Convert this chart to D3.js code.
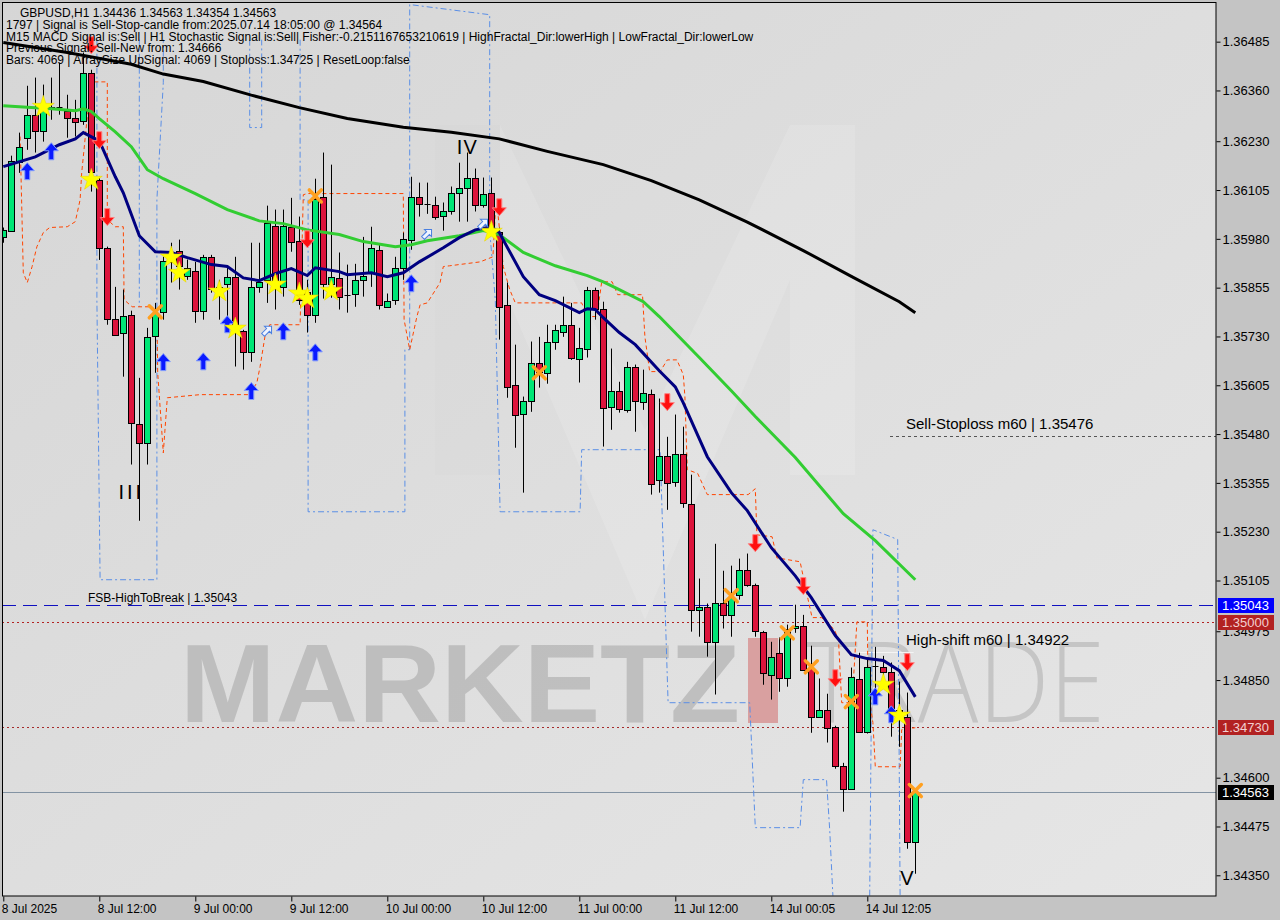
<!DOCTYPE html>
<html><head><meta charset="utf-8">
<script src="https://cdn.jsdelivr.net/npm/d3@7"></script>
<style>body{margin:0;background:#c4c4c4;} svg{display:block}</style>
</head><body><svg id="c" width="1280" height="920"></svg>
<script>
// ---------------- DATA ----------------
const open = [
1.35985,1.36001,1.36178,1.36239,1.36298,1.36257,1.36313,1.36317,1.36308,1.36290,
1.36283,1.36405,1.36131,1.35957,1.35775,1.35740,1.35786,1.35507,1.35458,1.35732,
1.35793,1.35921,1.35950,1.35886,1.35898,1.35796,1.35934,1.35857,1.35865,1.35883,
1.35745,1.35691,1.35857,1.35875,1.36014,1.35857,1.36011,1.35975,1.35845,1.35786,
1.36088,1.35865,1.35880,1.35837,1.35840,1.35875,1.35893,1.35952,1.35806,1.35824,
1.35906,1.35978,1.36088,1.36070,1.36067,1.36039,1.36052,1.36098,1.36111,1.36137,
1.36067,1.36098,1.35998,1.35811,1.35606,1.35532,1.35565,1.35663,1.35637,1.35717,
1.35742,1.35760,1.35673,1.35699,1.35850,1.35801,1.35550,1.35591,1.35542,1.35653,
1.35563,1.35583,1.35363,1.35425,1.35358,1.35430,1.35302,1.35030,1.35038,1.34948,
1.35048,1.35017,1.35069,1.35133,1.35094,1.34974,1.34864,1.34920,1.34856,1.34984,
1.34989,1.34882,1.34756,1.34774,1.34731,1.34631,1.34572,1.34853,1.34718,1.34887,
1.34884,1.34871,1.34774,1.34756,1.34436];
const high = [
1.36009,1.36193,1.36252,1.36372,1.36393,1.36375,1.36393,1.36431,1.36349,1.36336,
1.36457,1.36413,1.36139,1.35960,1.35857,1.35850,1.35796,1.35624,1.35752,1.35816,
1.35934,1.35970,1.35978,1.35927,1.35921,1.35939,1.35939,1.35875,1.35906,1.35934,
1.35747,1.35970,1.35970,1.36065,1.36055,1.36055,1.36085,1.36037,1.35875,1.36134,
1.36201,1.36170,1.35945,1.35914,1.35916,1.35985,1.36011,1.35965,1.35840,1.35934,
1.35996,1.36139,1.36124,1.36124,1.36088,1.36073,1.36114,1.36175,1.36201,1.36160,
1.36137,1.36137,1.36009,1.35868,1.35709,1.35576,1.35717,1.35729,1.35760,1.35760,
1.35832,1.35816,1.35752,1.35857,1.35855,1.35819,1.35699,1.35614,1.35665,1.35658,
1.35645,1.35594,1.35571,1.35473,1.35530,1.35499,1.35376,1.35110,1.35046,1.35199,
1.35130,1.35143,1.35161,1.35174,1.35097,1.34976,1.34948,1.34959,1.34992,1.35043,
1.35017,1.34938,1.34854,1.34815,1.34733,1.34638,1.34882,1.34920,1.34907,1.34935,
1.34912,1.34895,1.34846,1.34818,1.34563];
const low = [
1.35970,1.35998,1.36149,1.36208,1.36201,1.36229,1.36285,1.36298,1.36239,1.36242,
1.36272,1.36101,1.35926,1.35760,1.35732,1.35627,1.35402,1.35258,1.35402,1.35637,
1.35773,1.35868,1.35850,1.35875,1.35765,1.35773,1.35842,1.35773,1.35752,1.35653,
1.35645,1.35665,1.35842,1.35816,1.35799,1.35832,1.35947,1.35811,1.35740,1.35765,
1.35827,1.35829,1.35799,1.35791,1.35806,1.35832,1.35857,1.35799,1.35804,1.35811,
1.35875,1.35952,1.36037,1.36044,1.36029,1.36001,1.36042,1.36024,1.36024,1.36050,
1.36060,1.35991,1.35722,1.35573,1.35445,1.35330,1.35537,1.35599,1.35609,1.35696,
1.35729,1.35670,1.35612,1.35676,1.35773,1.35448,1.35491,1.35535,1.35535,1.35486,
1.35542,1.35325,1.35330,1.35286,1.35345,1.35291,1.34974,1.34961,1.34910,1.34813,
1.34982,1.34961,1.35056,1.35089,1.34961,1.34838,1.34800,1.34820,1.34833,1.34971,
1.34874,1.34715,1.34754,1.34690,1.34623,1.34513,1.34569,1.34715,1.34713,1.34825,
1.34851,1.34705,1.34679,1.34418,1.34354];
const close = [
1.36003,1.36180,1.36216,1.36298,1.36257,1.36324,1.36318,1.36315,1.36290,1.36280,
1.36405,1.36152,1.35957,1.35775,1.35734,1.35783,1.35509,1.35458,1.35729,1.35791,
1.35924,1.35937,1.35911,1.35906,1.35796,1.35934,1.35852,1.35847,1.35883,1.35747,
1.35691,1.35857,1.35870,1.36021,1.35863,1.36014,1.35973,1.35824,1.35786,1.36083,
1.35865,1.35883,1.35832,1.35834,1.35875,1.35886,1.35957,1.35811,1.35822,1.35906,
1.35980,1.36088,1.36070,1.36069,1.36037,1.36052,1.36098,1.36111,1.36137,1.36067,
1.36096,1.36011,1.35806,1.35601,1.35530,1.35565,1.35663,1.35640,1.35717,1.35747,
1.35760,1.35676,1.35701,1.35850,1.35801,1.35548,1.35591,1.35545,1.35653,1.35565,
1.35586,1.35353,1.35425,1.35355,1.35430,1.35304,1.35030,1.35038,1.34948,1.35048,
1.35017,1.35063,1.35133,1.35094,1.34976,1.34869,1.34910,1.34856,1.34982,1.34989,
1.34877,1.34756,1.34774,1.34728,1.34631,1.34572,1.34859,1.34718,1.34884,1.34884,
1.34871,1.34774,1.34769,1.34436,1.34563];

// moving averages: [bar index, price]
const maSlow = [[0,1.36483],[8,1.36457],[16,1.36427],[20,1.36402],[25,1.36383],[31,1.36348],[37,1.36316],[43,1.36288],[50,1.36266],[56,1.36253],[62,1.36236],[68,1.36204],[75,1.36170],[81,1.36129],[87,1.36080],[93,1.36023],[100,1.35950],[106,1.35884],[112,1.35819],[114,1.35791]];
const maMid = [[0,1.36321],[6,1.36313],[9,1.36308],[10,1.36313],[11,1.36306],[12,1.36288],[14,1.36254],[16,1.36216],[18,1.36157],[20,1.36134],[24,1.36096],[28,1.36055],[32,1.36026],[35,1.36019],[38,1.36003],[42,1.35991],[45,1.35973],[49,1.35960],[51,1.35965],[53,1.35975],[57,1.35988],[60,1.36001],[62,1.35991],[65,1.35945],[69,1.35911],[73,1.35886],[75,1.35870],[77,1.35850],[80,1.35819],[82,1.35781],[87,1.35676],[91,1.35591],[94,1.35525],[99,1.35420],[105,1.35276],[109,1.35207],[114,1.35107]];
const maFast = [[0,1.36165],[4,1.36190],[7,1.36221],[9,1.36236],[10,1.36252],[12,1.36231],[14,1.36139],[15,1.36098],[17,1.35988],[19,1.35947],[21,1.35945],[23,1.35932],[26,1.35914],[28,1.35909],[30,1.35880],[32,1.35873],[34,1.35891],[36,1.35904],[38,1.35886],[39,1.35906],[42,1.35896],[43,1.35888],[46,1.35893],[48,1.35883],[50,1.35893],[52,1.35921],[55,1.35957],[57,1.35983],[59,1.36003],[61,1.36011],[62,1.35996],[65,1.35883],[67,1.35837],[69,1.35822],[72,1.35791],[73,1.35801],[74,1.35799],[75,1.35778],[77,1.35740],[79,1.35709],[82,1.35642],[84,1.35601],[85,1.35560],[88,1.35422],[91,1.35330],[93,1.35284],[96,1.35189],[99,1.35117],[101,1.35061],[104,1.34964],[106,1.34915],[108,1.34905],[110,1.34900],[112,1.34874],[114,1.34807]];

// orange trailing (step) line: [bar position, price]
const trailLine = [[2.1,1.36242],[2.5,1.35893],[3.0,1.35868],[3.6,1.35909],[4.2,1.35960],[5.0,1.35996],[5.8,1.36009],[8.0,1.36011],[9.0,1.36024],[9.6,1.36080],[9.8,1.36149],[10.5,1.36293],[11.1,1.36382],[13.0,1.36382],[13.0,1.36029],[14.0,1.36011],[15.0,1.36011],[15.1,1.35824],[16.1,1.35806],[18.6,1.35806],[19.2,1.35791],[19.3,1.35637],[20.0,1.35432],[20.5,1.35573],[24.6,1.35581],[30.8,1.35581],[31.7,1.35612],[32.1,1.35653],[32.7,1.35729],[33.3,1.35760],[37.1,1.35760],[37.5,1.36093],[38.0,1.36096],[50.0,1.36096],[50.1,1.35773],[50.8,1.35696],[51.7,1.35781],[52.1,1.35811],[53.0,1.35816],[54.6,1.35868],[55.0,1.35909],[55.8,1.35911],[59.6,1.35921],[61.2,1.35934],[61.5,1.36047],[61.8,1.36050],[62.5,1.35909],[63.3,1.35850],[64.0,1.35816],[72.3,1.35816],[73.0,1.35781],[74.2,1.35781],[74.8,1.35870],[76.1,1.35870],[76.8,1.35837],[79.9,1.35837],[80.2,1.35729],[80.8,1.35640],[82.1,1.35640],[83.0,1.35670],[84.2,1.35670],[85.0,1.35632],[85.2,1.35576],[85.5,1.35389],[86.8,1.35379],[88.0,1.35325],[93.1,1.35325],[94.0,1.35340],[94.2,1.35222],[96.1,1.35217],[96.7,1.35163],[99.6,1.35153],[100.6,1.35056],[101.1,1.35010],[102.3,1.35010],[103.9,1.34979],[104.4,1.34953],[104.8,1.34792],[106.1,1.34792],[106.7,1.34999],[108.0,1.34999],[108.1,1.34825],[108.7,1.34741],[109.0,1.34628],[112.1,1.34628],[112.3,1.34723],[114.0,1.34728]];

// blue dashed envelope pieces: [bar position, price]
const envA = [[11.7,1.36490],[11.7,1.35824],[12.1,1.35107],[19.2,1.35107],[19.2,1.36080],[20.0,1.36380],[20.0,1.36490]];
const envB = [[17.0,1.36490],[17.0,1.35806]];
const envC = [[30.8,1.36490],[30.8,1.36265],[32.3,1.36265],[32.3,1.36490]];
const envD = [[37.1,1.36490],[37.1,1.36080],[38.1,1.36080],[38.1,1.35281],[50.2,1.35281],[50.2,1.35696],[50.8,1.35696],[50.8,1.36580],[60.8,1.36554],[60.8,1.36003],[61.5,1.35824],[62.1,1.35281],[72.1,1.35281],[72.3,1.35440],[82.1,1.35440],[82.3,1.35312],[83.1,1.34792],[93.3,1.34792],[94.0,1.34472],[99.6,1.34472],[100.0,1.34595],[102.9,1.34595],[103.3,1.34467],[103.7,1.34298]];
const envE = [[108.3,1.34298],[108.7,1.35235],[111.8,1.35210],[112.1,1.34298]];

// signal markers: bar index + price
const upIdx = [3,6,20,25,28,31,35,39,51,109,111];
const upVal = [1.36152,1.36203,1.35663,1.35665,1.35760,1.35589,1.35742,1.35688,1.35865,1.34807,1.34761];
const downIdx = [11,12,13,38,62,83,94,100,104,113];
const downVal = [1.36477,1.36234,1.36037,1.35980,1.36062,1.35563,1.35202,1.35092,1.34856,1.34897];
const starIdx = [5,11,21,22,27,29,34,37,38,41,61,110,112];
const starVal = [1.36318,1.36131,1.35932,1.35893,1.35845,1.35750,1.35863,1.35840,1.35827,1.35847,1.35998,1.34838,1.34759];
const crossIdx = [19,39,67,91,98,101,106,114];
const crossVal = [1.35793,1.36090,1.35637,1.35066,1.34971,1.34884,1.34795,1.34567];
const hollowIdx = [33,53,60];
const hollowVal = [1.35745,1.35993,1.36019];
const waveLabels = ["III","IV","V"];
const waveIdx = [16,58,113];
const waveVal = [1.35332,1.36216,1.34344];

// axes
const yTicks = [1.36485,1.36360,1.36230,1.36105,1.35980,1.35855,1.35730,1.35605,1.35480,1.35355,1.35230,1.35105,1.34975,1.34850,1.34600,1.34475,1.34350];
const xTickIdx = [0,12,24,36,48,60,72,84,96,108];
const xTickLabels = ["8 Jul 2025","8 Jul 12:00","9 Jul 00:00","9 Jul 12:00","10 Jul 00:00","10 Jul 12:00","11 Jul 00:00","11 Jul 12:00","14 Jul 00:05","14 Jul 12:05"];

// levels
const levelFSB = 1.35043, levelRound = 1.35000, levelStop = 1.34730, levelBid = 1.34563;
const levelSellStop = 1.35476, levelHighShift = 1.34922;

const headerLines = [
 "GBPUSD,H1  1.34436 1.34563 1.34354 1.34563",
 "1797 | Signal is Sell-Stop-candle from:2025.07.14 18:05:00 @ 1.34564",
 "M15 MACD Signal is:Sell | H1 Stochastic Signal is:Sell| Fisher:-0.2151167653210619 | HighFractal_Dir:lowerHigh | LowFractal_Dir:lowerLow",
 "Previous Signal: Sell-New from: 1.34666",
 "Bars: 4069 | ArraySize UpSignal: 4069 | Stoploss:1.34725 | ResetLoop:false"];

// ---------------- DRAW ----------------
const W = 1280, H = 920, PR = 1216, PB = 896;
const svg = d3.select('#c');
const FONT = "'Liberation Sans', Arial, sans-serif";
const x = d3.scaleLinear().domain([-0.4125, 151.5875]).range([0, PR]);
const y = d3.scaleLinear().domain([1.34297, 1.36584]).range([PB, 3]);

const defs = svg.append('defs');
const g1 = defs.append('linearGradient').attr('id','bg').attr('x1',0).attr('y1',0).attr('x2',1).attr('y2',1);
g1.append('stop').attr('offset','0%').attr('stop-color','#d6d6d6');
g1.append('stop').attr('offset','100%').attr('stop-color','#e6e6e6');
defs.append('clipPath').attr('id','clip').append('rect').attr('x',2).attr('y',2).attr('width',PR-2).attr('height',PB-2);

svg.append('rect').attr('width',W).attr('height',H).attr('fill','#c4c4c4');
svg.append('rect').attr('x',2).attr('y',2).attr('width',PR-2).attr('height',PB-2).attr('fill','url(#bg)');

const plot = svg.append('g').attr('clip-path','url(#clip)');

// watermark logo M
plot.append('path')
  .attr('d','M435,475L435,125L500,125L645,430L790,125L855,125L855,475L790,475L790,280L645,620L500,280L500,475Z')
  .attr('fill','#ffffff').attr('opacity',0.13);
plot.append('path')
  .attr('d','M435,475L435,125L500,125L500,475Z')
  .attr('fill','#000000').attr('opacity',0.025);
plot.append('text').attr('x',180).attr('y',722).text('MARKETZ')
  .attr('font-family',FONT).attr('font-weight',900).attr('font-size',112)
  .attr('textLength',560).attr('lengthAdjust','spacingAndGlyphs').attr('fill','#b4b4b4').attr('opacity',0.75);
plot.append('rect').attr('x',748).attr('y',638).attr('width',30).attr('height',85).attr('fill','#d9a0a0');
plot.append('text').attr('x',805).attr('y',722).text('TRADE')
  .attr('font-family',"'Open Sans', sans-serif").attr('font-weight',300).attr('font-size',112)
  .attr('textLength',300).attr('lengthAdjust','spacingAndGlyphs').attr('fill','#c2c2c2').attr('opacity',0.9);

// horizontal levels
function hline(v, color, dash, x1, width){
  plot.append('line').attr('x1',x1).attr('x2',PR).attr('y1',Math.round(y(v))+0.5).attr('y2',Math.round(y(v))+0.5)
    .attr('stroke',color).attr('stroke-width',width||1).attr('stroke-dasharray',dash);
}
hline(levelBid,'#8393a3',null,2);
hline(levelStop,'#a52a2a','2,3',2);
hline(levelRound,'#b22222','2,3',2);
hline(levelFSB,'#1010c0','14,7',2);
hline(levelSellStop,'#555555','3,3',890);
plot.append('line').attr('x1',x(106.8)).attr('x2',x(113.8)).attr('y1',Math.round(y(levelHighShift))+0.5).attr('y2',Math.round(y(levelHighShift))+0.5)
  .attr('stroke','#f4f4f4').attr('stroke-width',1);

const line = d3.line().x(d=>x(d[0])).y(d=>y(d[1]));

// blue envelope
[envA,envB,envC,envD,envE].forEach(p=>{
  plot.append('path').attr('d',line(p)).attr('fill','none').attr('stroke','#5b8fe6').attr('stroke-width',1).attr('stroke-dasharray','6,3,2,3');
});
// orange trail
plot.append('path').attr('d',line(trailLine)).attr('fill','none').attr('stroke','#ff4500').attr('stroke-width',1).attr('stroke-dasharray','4,3');

// candles
const idx = d3.range(open.length);
const cg = plot.append('g');
idx.forEach(i=>{
  const cx = Math.round(x(i)) + 0.5;
  cg.append('line').attr('x1',cx).attr('x2',cx).attr('y1',y(high[i])).attr('y2',y(low[i])).attr('stroke','#000').attr('stroke-width',1);
  const top = y(Math.max(open[i],close[i])), bot = y(Math.min(open[i],close[i]));
  if (bot - top < 1.5) {
    cg.append('line').attr('x1',cx-3).attr('x2',cx+3).attr('y1',Math.round(top)+0.5).attr('y2',Math.round(top)+0.5).attr('stroke','#000');
  } else {
    cg.append('rect').attr('x',cx-3).attr('y',Math.round(top)+0.5).attr('width',6).attr('height',Math.max(1,Math.round(bot-top)))
      .attr('fill', close[i] >= open[i] ? '#00e676' : '#dc143c').attr('stroke','#000').attr('stroke-width',1);
  }
});

// moving averages
plot.append('path').attr('d',line(maSlow)).attr('fill','none').attr('stroke','#000').attr('stroke-width',3);
plot.append('path').attr('d',line(maMid)).attr('fill','none').attr('stroke','#32cd32').attr('stroke-width',3);
plot.append('path').attr('d',line(maFast)).attr('fill','none').attr('stroke','#000080').attr('stroke-width',3);

// markers
const upPath = 'M0,-9L7,-1L2.5,-1L2.5,8L-2.5,8L-2.5,-1L-7,-1Z';
const downPath = 'M0,9L7,1L2.5,1L2.5,-8L-2.5,-8L-2.5,1L-7,1Z';
upIdx.forEach((d,k)=>plot.append('path').attr('d',upPath).attr('transform',`translate(${x(d)},${y(upVal[k])})`)
  .attr('fill','#0a1aff').attr('stroke','#7f9bff').attr('stroke-width',1));
downIdx.forEach((d,k)=>plot.append('path').attr('d',downPath).attr('transform',`translate(${x(d)},${y(downVal[k])})`)
  .attr('fill','#ff1010').attr('stroke','#ff8080').attr('stroke-width',1));
const star = d3.symbol().type(d3.symbolStar).size(150);
starIdx.forEach((d,k)=>plot.append('path').attr('d',star()).attr('transform',`translate(${x(d)},${y(starVal[k])})`)
  .attr('fill','#ffff00').attr('stroke','#e6d000').attr('stroke-width',0.5));
crossIdx.forEach((d,k)=>plot.append('path').attr('d','M-6,-6L6,6M6,-6L-6,6').attr('transform',`translate(${x(d)},${y(crossVal[k])})`)
  .attr('stroke','#ffa020').attr('stroke-width',3.5).attr('stroke-linecap','round'));
hollowIdx.forEach((d,k)=>plot.append('path').attr('d','M0,-6L5,-1L2,-1L2,6L-2,6L-2,-1L-5,-1Z')
  .attr('transform',`translate(${x(d)},${y(hollowVal[k])}) rotate(45)`)
  .attr('fill','#f0f4ff').attr('stroke','#4a7fe0').attr('stroke-width',1));
waveLabels.forEach((t,k)=>plot.append('text').attr('x',x(waveIdx[k])).attr('y',y(waveVal[k])+7).text(t)
  .attr('text-anchor','middle').attr('font-family',FONT).attr('font-size',20).attr('letter-spacing',t==='III'?3:1).attr('fill','#000'));

// plot texts
plot.append('text').attr('x',906).attr('y',y(levelSellStop)-7).text('Sell-Stoploss m60 | 1.35476')
  .attr('font-family',FONT).attr('font-size',15).attr('fill','#000');
plot.append('text').attr('x',906).attr('y',y(levelHighShift)-7).text('High-shift m60 | 1.34922')
  .attr('font-family',FONT).attr('font-size',15).attr('fill','#000');
plot.append('text').attr('x',88).attr('y',y(levelFSB)-3).text('FSB-HighToBreak | 1.35043')
  .attr('font-family',FONT).attr('font-size',12).attr('fill','#000');

headerLines.forEach((t,k)=>plot.append('text').attr('x',k===0?20:6).attr('y',17+k*11.8).text(t)
  .attr('font-family',FONT).attr('font-size',12).attr('fill','#000'));

// frame
svg.append('rect').attr('x',2.5).attr('y',2.5).attr('width',PR-2.5).attr('height',PB-2.5).attr('fill','none').attr('stroke','#000');

// right axis
const ya = svg.append('g').attr('transform',`translate(${PR+0.5},0)`)
  .call(d3.axisRight(y).tickValues(yTicks).tickFormat(d3.format('.5f')).tickSize(4).tickSizeOuter(0));
ya.select('.domain').remove();
ya.selectAll('line').attr('stroke','#000');
ya.selectAll('text').attr('font-family',FONT).attr('font-size',13).attr('fill','#000').attr('x',6);

// bottom axis
const xa = svg.append('g').attr('transform',`translate(0,${PB+0.5})`)
  .call(d3.axisBottom(x).tickValues(xTickIdx).tickFormat((d,k)=>xTickLabels[k]).tickSize(5).tickSizeOuter(0));
xa.select('.domain').remove();
xa.selectAll('line').attr('stroke','#000');
xa.selectAll('text').attr('font-family',FONT).attr('font-size',12).attr('fill','#000')
  .attr('text-anchor','start').attr('dx',-2).attr('y',8);

// price boxes on axis
[[levelFSB,'#0000ff','#ffffff'],[levelRound,'#b22222','#f2d0d0'],[levelStop,'#b22222','#f2d0d0'],[levelBid,'#000000','#ffffff']].forEach(b=>{
  const yy = Math.round(y(b[0]));
  svg.append('rect').attr('x',PR+2).attr('y',yy-7).attr('width',56).attr('height',15).attr('fill',b[1]);
  svg.append('text').attr('x',PR+6).attr('y',yy+5).text(d3.format('.5f')(b[0]))
    .attr('font-family',FONT).attr('font-size',13).attr('fill',b[2]);
});
</script></body></html>
